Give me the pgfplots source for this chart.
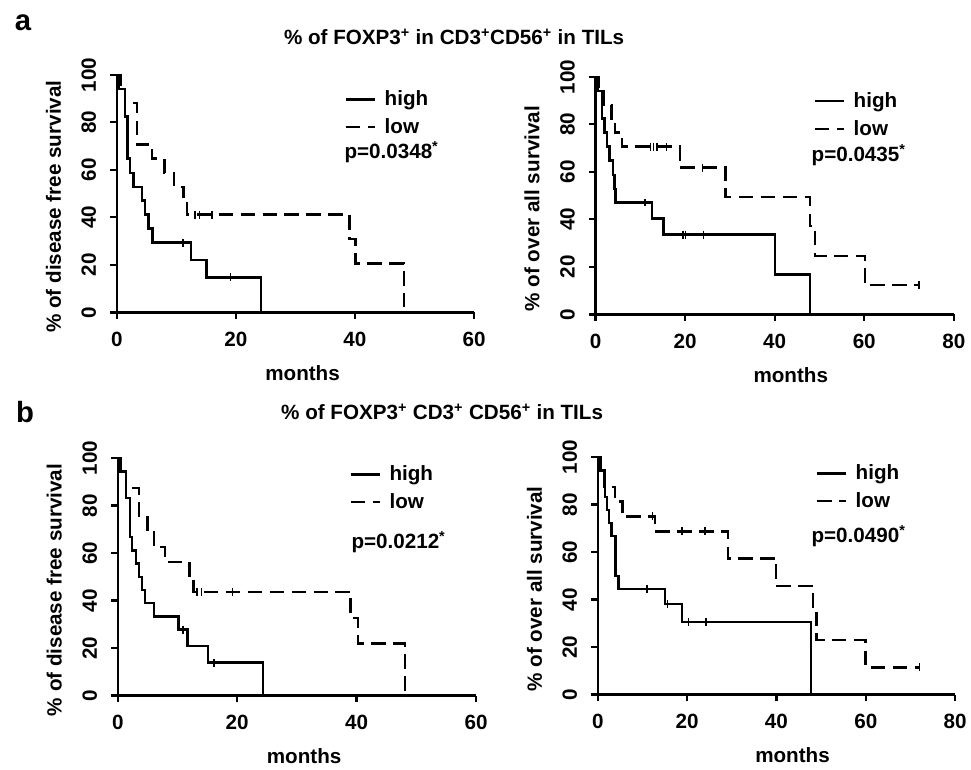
\documentclass[border=0pt]{standalone}
\usepackage{fontspec}
\setmainfont{Liberation Sans}
\usepackage{pgfplots}
\pgfplotsset{compat=1.18}

\newcommand{\fs}{\fontsize{15.5}{17}\selectfont\bfseries}
\newcommand{\sps}{\textsuperscript{+}}

\pgfplotsset{
  km/.style={
    scale only axis, height=178.5pt,
    axis lines=left, axis line style={-, line width=1.7pt},
    ymin=0, ymax=100, ytick={0,20,...,100},
    tick align=outside, major tick length=5pt,
    major tick style={black, line width=1.7pt},
    tick label style={font=\fs},
    /pgf/number format/assume math mode=true,
    xticklabel style={yshift=-6pt},
    yticklabel style={xshift=-7pt, rotate=90, anchor=south},
    label style={font=\fs},
    xlabel={months},
    xlabel style={at={(axis description cs:0.52,-0.255)}, anchor=center},
    ylabel style={at={(axis description cs:-0.177,0.445)}, anchor=center},
    clip=false,
    legend style={draw=none, fill=none, inner sep=0pt, font=\fs, row sep=4pt,
      cells={anchor=west}},
    legend image code/.code={\draw[#1] (0pt,0pt) -- (22pt,0pt); \path (26.3pt,0pt);},
  },
  hi/.style={const plot, black, line width=1.8pt, no marks},
  lo/.style={const plot, black, line width=1.8pt, no marks, dash pattern=on 11pt off 5.5pt},
  cens/.style={only marks, mark=|, mark size=3pt, black, line width=1.1pt, forget plot},
}

\begin{document}
\begin{tikzpicture}
\begin{scope}[x=0.75pt,y=0.75pt]
\path[use as bounding box] (0,0) rectangle (971,771);
\node[font=\fontsize{22}{24}\selectfont\bfseries] at (23,748) {a};
\node[font=\fontsize{15.5}{17}\selectfont\bfseries] at (455,734)
  {\% of FOXP3\sps{} in CD3\sps{}CD56\sps{} in TILs};
\node[font=\fontsize{22}{24}\selectfont\bfseries] at (25,358) {b};
\node[font=\fontsize{15.5}{17}\selectfont\bfseries] at (443,358)
  {\% of FOXP3\sps{} CD3\sps{} CD56\sps{} in TILs};
\end{scope}

% a: disease free survival
\begin{axis}[km, at={(87.75pt,343.5pt)}, anchor=south west, width=268.5pt,
  xmin=0, xmax=60, xtick={0,20,40,60},
  ylabel={\% of disease free survival},
  legend style={at={(0.637,0.945)}, anchor=north west}]
\addplot[hi] coordinates {(0,100)(0.4,94.1)(1.4,82.4)(1.8,64.7)(2.2,58.8)(2.8,52.9)(4.2,47.1)(4.75,41.2)(5.3,35.3)(6.0,29.4)(12.5,22.1)(15.1,14.7)(24.2,0)};
\addplot[lo] coordinates {(0,100)(0.6,94.1)(1.4,88.2)(3.35,70.6)(5.9,64.7)(8.0,58.8)(9.6,52.9)(11.2,47.1)(11.8,41.2)(39.1,30.9)(40.1,20.6)(48.2,0)};
\addplot[cens] coordinates {(11.1,29.4)(19.1,14.7)};
\addplot[cens] coordinates {(13.1,41.2)(13.9,41.2)(16.0,41.2)};
\legend{high,low}
\node[anchor=west, font=\fs, inner sep=0pt] at (axis cs:38.2,67.6) {p=0.0348\textsuperscript{*}};
\end{axis}

% a: overall survival
\begin{axis}[km, at={(447.525pt,342pt)}, anchor=south west, width=269.25pt,
  xmin=0, xmax=80, xtick={0,20,40,60,80},
  ylabel={\% of over all survival},
  xlabel style={at={(axis description cs:0.545,-0.255)}},
  legend style={at={(0.608,0.945)}, anchor=north west}]
\addplot[hi] coordinates {(0,100)(0.4,94.1)(1.5,82.4)(2.0,76.5)(2.6,70.6)(3.1,64.7)(3.9,58.8)(4.2,52.9)(4.5,47.1)(12.6,40.3)(15.2,33.6)(40.1,16.8)(47.9,0)};
\addplot[lo] coordinates {(0,100)(0.8,94.1)(1.9,88.2)(3.6,82.4)(4.3,76.5)(5.9,70.6)(18.9,61.8)(29,49.4)(47.9,37.1)(49,24.7)(60.2,12.4)(72.2,12.4)};
\addplot[cens] coordinates {(11,47.1)(19.5,33.6)(20.1,33.6)(24.1,33.6)};
\addplot[cens] coordinates {(12.3,70.6)(13,70.6)(13.7,70.6)(15.8,70.6)(23.9,61.8)(72.2,12.4)};
\legend{high,low}
\node[anchor=west, font=\fs, inner sep=0pt] at (axis cs:48.2,67.2) {p=0.0435\textsuperscript{*}};
\end{axis}

% b: disease free survival
\begin{axis}[km, at={(88.5pt,55.5pt)}, anchor=south west, width=269.25pt,
  xmin=0, xmax=60, xtick={0,20,40,60},
  ylabel={\% of disease free survival},
  legend style={at={(0.646,0.979)}, anchor=north west}]
\addplot[hi] coordinates {(0,100)(0.4,94.4)(1.4,83.3)(2.0,66.7)(2.4,61.1)(3.1,55.6)(3.6,50)(4.1,44.4)(4.6,38.9)(6.1,33.3)(10.2,27.8)(11.7,20.8)(15.1,13.9)(24.3,0)};
\addplot[lo] coordinates {(0,100)(0.5,93.75)(1.4,87.5)(3.6,75)(5.0,68.75)(6.1,62.5)(7.9,56.25)(12.0,50)(12.7,43.75)(39.0,32.8)(40.2,21.9)(48.1,0)};
\addplot[cens] coordinates {(10.9,27.8)(16.1,13.9)};
\addplot[cens] coordinates {(13.3,43.75)(14.0,43.75)(19.2,43.75)};
\legend{high,low}
\node[anchor=west, font=\fs, inner sep=0pt] at (axis cs:39.1,64.7) {p=0.0212\textsuperscript{*}};
\end{axis}

% b: overall survival
\begin{axis}[km, at={(449.25pt,56.25pt)}, anchor=south west, width=268.5pt,
  xmin=0, xmax=80, xtick={0,20,40,60,80},
  ylabel={\% of over all survival},
  xlabel style={at={(axis description cs:0.545,-0.255)}},
  legend style={at={(0.609,0.979)}, anchor=north west}]
\addplot[hi] coordinates {(0,100)(0.5,94.4)(1.6,83.3)(2.0,77.8)(2.5,72.2)(3.1,66.7)(4.0,50)(4.6,44.4)(15.0,38.1)(18.9,30.5)(47.8,0)};
\addplot[lo] coordinates {(0,100)(0.6,93.75)(1.5,87.5)(3.9,81.25)(5.5,75)(12.8,68.75)(29.1,57.3)(39.9,45.8)(48.2,34.4)(49,22.9)(59.9,11.5)(72,11.5)};
\addplot[cens] coordinates {(11,44.4)(15.6,38.1)(20.3,30.5)(24.2,30.5)};
\addplot[cens] coordinates {(12.2,75)(18.8,68.75)(24,68.75)(72,11.5)};
\legend{high,low}
\node[anchor=west, font=\fs, inner sep=0pt] at (axis cs:47.8,66.8) {p=0.0490\textsuperscript{*}};
\end{axis}
\end{tikzpicture}
\end{document}
